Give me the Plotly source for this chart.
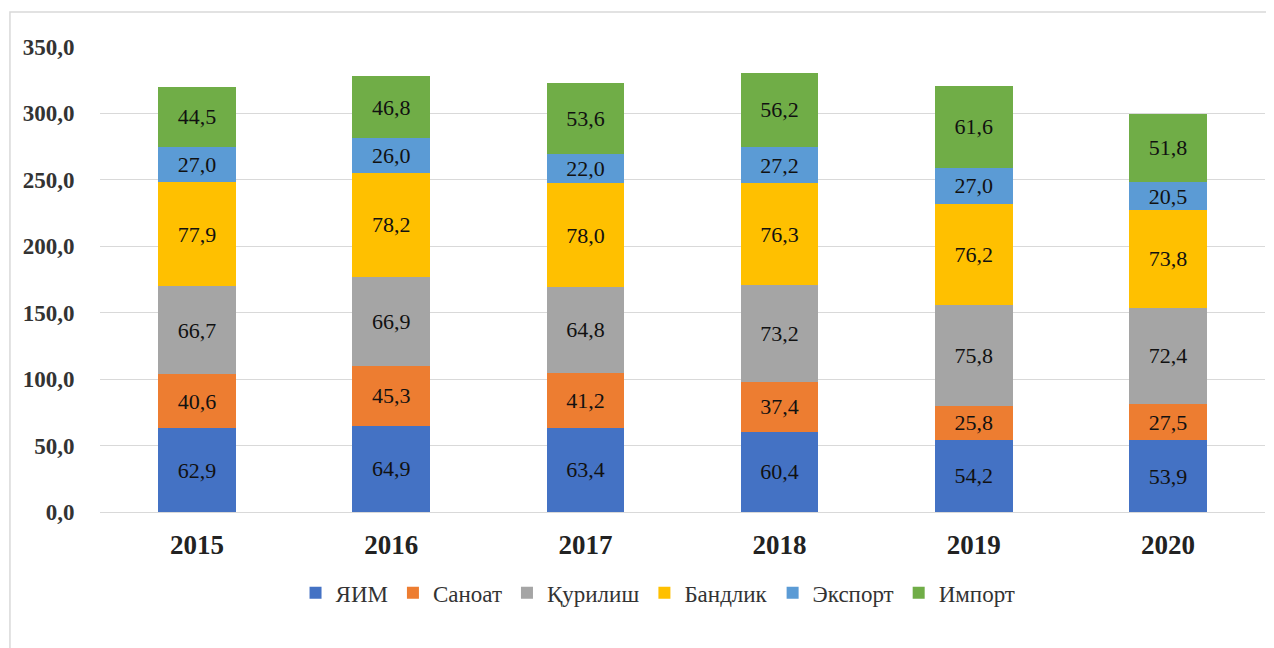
import plotly.graph_objects as go

years = ["2015", "2016", "2017", "2018", "2019", "2020"]
series_names = ["ЯИМ", "Саноат", "Қурилиш", "Бандлик", "Экспорт", "Импорт"]
yim = [62.9, 64.9, 63.4, 60.4, 54.2, 53.9]
sanoat = [40.6, 45.3, 41.2, 37.4, 25.8, 27.5]
qurilish = [66.7, 66.9, 64.8, 73.2, 75.8, 72.4]
bandlik = [77.9, 78.2, 78.0, 76.3, 76.2, 73.8]
eksport = [27.0, 26.0, 22.0, 27.2, 27.0, 20.5]
import_ = [44.5, 46.8, 53.6, 56.2, 61.6, 51.8]
colors = ["#4472C4", "#ED7D31", "#A5A5A5", "#FFC000", "#5B9BD5", "#70AD47"]
y_ticks = [0, 50, 100, 150, 200, 250, 300, 350]

values = [yim, sanoat, qurilish, bandlik, eksport, import_]
font = "Liberation Serif, Times New Roman, serif"

fig = go.Figure()
for name, vals, col in zip(series_names, values, colors):
    fig.add_trace(go.Bar(
        x=years, y=vals, name=name,
        marker=dict(color=col, line=dict(width=0)),
        texttemplate="%{y:.1f}", textposition="inside",
        insidetextanchor="middle", textangle=0,
        textfont=dict(family=font, size=22, color="#111111"),
        hoverinfo="skip",
    ))

fig.update_layout(
    barmode="stack", bargap=0.6,
    separators=", ",
    width=1266, height=640,
    margin=dict(l=92, r=9, t=39, b=136),
    paper_bgcolor="white", plot_bgcolor="white",
    font=dict(family=font, color="#333333"),
    uniformtext=dict(minsize=22, mode="show"),
    legend=dict(orientation="h", x=0.479, xanchor="center", y=-0.174, yanchor="middle",
                font=dict(family=font, size=23, color="#333333"),
                traceorder="normal"),
    showlegend=True,
)
fig.update_xaxes(
    tickfont=dict(family=font, size=27, color="#222222", weight="bold"),
    ticks="outside", ticklen=9, tickcolor="rgba(0,0,0,0)",
    showline=True, linecolor="#D9D9D9", linewidth=1,
)
fig.update_yaxes(
    range=[0, 350], tickvals=y_ticks, tickformat=".1f",
    tickfont=dict(family=font, size=23, color="#333333", weight="bold"),
    ticks="outside", ticklen=20, tickcolor="rgba(0,0,0,0)",
    showgrid=True, gridcolor="#D9D9D9", gridwidth=1, zeroline=False,
)
fig.add_shape(type="rect", xref="paper", yref="paper",
              x0=-0.0773, x1=1.02, y0=-0.4, y1=1.0753,
              line=dict(color="#D9D9D9", width=1.5), fillcolor="rgba(0,0,0,0)", layer="below")

fig.write_html("out.html")
